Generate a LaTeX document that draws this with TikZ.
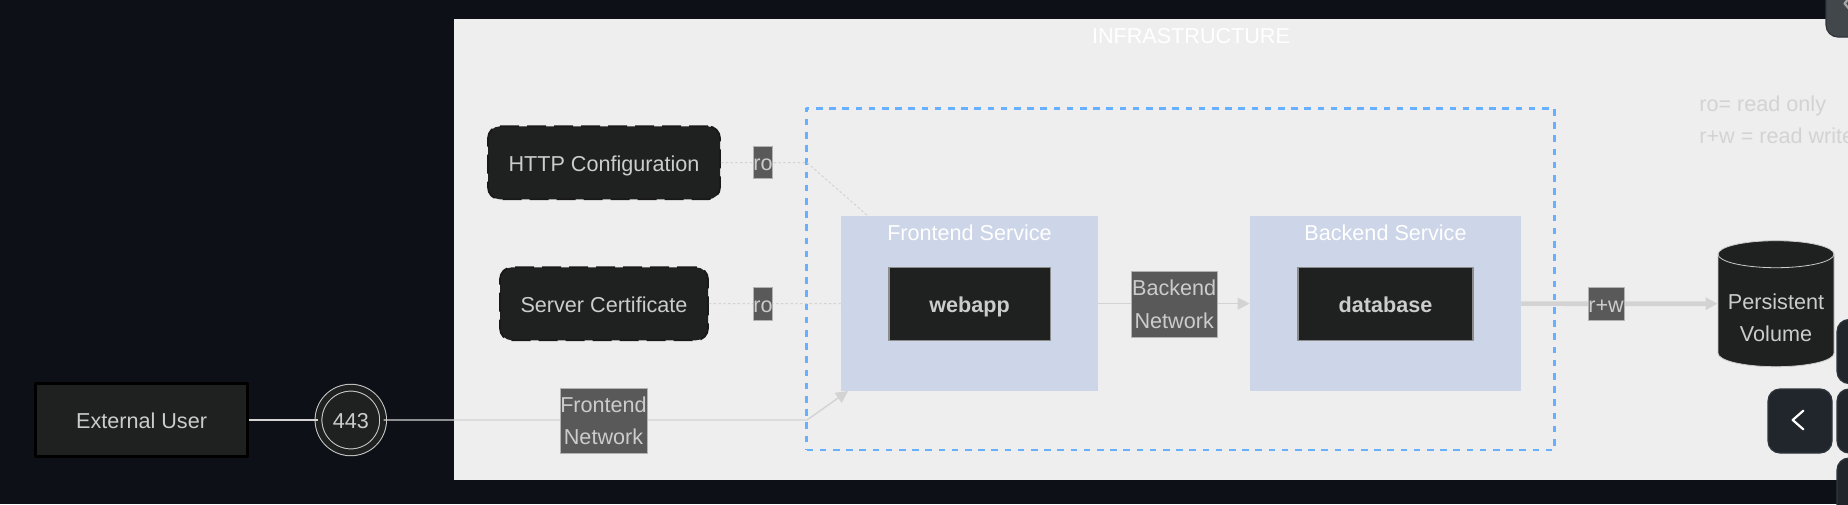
\documentclass[tikz,border=0pt]{standalone}
\usepackage{fontspec}
\setmainfont{Liberation Sans}
\usepackage{xcolor}
\usepackage{tikz}
\usetikzlibrary{arrows.meta}
\definecolor{pagebg}{HTML}{0D1117}
\definecolor{panelbg}{HTML}{EEEEEE}
\definecolor{boxbg}{HTML}{1F2020}
\definecolor{clusterbg}{HTML}{CDD5E8}
\definecolor{labelbg}{HTML}{595959}
\definecolor{edgegray}{HTML}{D3D3D3}
\definecolor{textgray}{HTML}{CCCCCC}
\definecolor{dashblue}{HTML}{66B0FF}
\definecolor{btnbg}{HTML}{21262D}
\definecolor{btnline}{HTML}{30363D}
\tikzstyle{basetext} = [font=\fontsize{10.8}{16.35}\selectfont,align=center,inner sep=0pt]
\tikzstyle{oneline} = [text height=9pt,text depth=0.5pt]
\tikzstyle{darkbox} = [basetext,oneline,fill=boxbg,text=textgray]
\tikzstyle{mountbox} = [darkbox,rounded corners=6pt,draw=black!90,line width=0.9pt,dash pattern=on 9.5pt off 4pt]
\tikzstyle{podbox} = [darkbox,draw=gray!90,line width=0.6pt,font=\fontsize{10.8}{16.35}\selectfont\bfseries]
\tikzstyle{cluster} = [fill=clusterbg,inner sep=0pt]
\tikzstyle{edgelabel} = [basetext,fill=labelbg,draw=gray!60,line width=0.3pt,text=textgray]
\tikzstyle{flow} = [edgegray,line width=0.7pt,>={Triangle[length=6pt,width=6pt]}]
\tikzstyle{mountflow} = [flow,dash pattern=on 1.2pt off 1.2pt,line width=0.5pt]
\tikzstyle{whitetext} = [basetext,oneline,text=white]
\tikzstyle{button} = [fill=btnbg,draw=btnline,line width=0.6pt,rounded corners=6pt,inner sep=0pt]

\begin{document}
\begin{tikzpicture}[line cap=butt,line join=round,x=0.5pt,y=-0.5pt]
            \useasboundingbox (0,0) rectangle (1848,504);
            \clip (0,0) rectangle (1848,504);
            \fill[pagebg] (0,0) rectangle (1848,504);
            \node[fill=panelbg,inner sep=0pt,minimum width=697pt,minimum height=230.5pt] (panel) at (1151,249.5) {};
            % service boxes
            \node[draw=dashblue,line width=1.25pt,dash pattern=on 3.3pt off 3.3pt,inner sep=0pt,minimum width=374pt,minimum height=170.8pt] (netpolicy) at (1180.5,279.2) {};
            \node[cluster,minimum width=128.5pt,minimum height=87.5pt] (frontend) at (969.5,303.6) {};
            \node[cluster,minimum width=135.3pt,minimum height=87.5pt] (backend) at (1385.3,303.6) {};
            \node[podbox,minimum width=80.6pt,minimum height=36.3pt] (webapp) at (969.5,303.8) {webapp};
            \node[podbox,minimum width=87.5pt,minimum height=36.3pt] (database) at (1385.5,303.8) {database};
            % outside and mounts
            \node[darkbox,draw=black,line width=1.2pt,minimum width=106pt,minimum height=36.5pt] (user) at (141.6,420) {External User};
            \node[darkbox,circle,draw=textgray,line width=0.5pt,minimum size=32.3pt,double=boxbg,double distance=2.9pt] (port) at (350.8,420) {443};
            \node[mountbox,minimum width=116pt,minimum height=36.5pt] (httpconf) at (604,162.8) {HTTP Configuration};
            \node[mountbox,minimum width=104pt,minimum height=36.5pt] (servercert) at (604,303.8) {Server Certificate};
            % volume drum
            \draw[fill=boxbg,draw=textgray,line width=0.4pt] (1718,254.2) arc (180:360:58 and 13.5) -- (1834,353.2) arc (0:180:58 and 13.5) -- cycle;
            \draw[textgray,line width=0.4pt] (1718,254.2) arc (180:0:58 and 13.5);
            \node[inner sep=0pt,minimum width=58pt,minimum height=63pt] (volume) at (1776,303.7) {};
            \node[basetext,text=textgray] (volumetext) at (1776,317.8) {Persistent\\Volume};
            \coordinate (bendhttp) at (807,162.6);
            \coordinate (bendfront) at (807,420);
            \coordinate (frontop) at (868,216);
            \coordinate (frontip) at (848,391);
            % connectors
            \draw[flow] (user) -- (port);
            \draw[flow,->] (port) -- (bendfront) -- (frontip);
            \draw[mountflow] (httpconf) -- (bendhttp) -- (frontop);
            \draw[mountflow] (servercert) -- (frontend);
            \draw[flow,->] (frontend) -- (backend);
            \draw[flow,->,line width=2.35pt] (backend) -- (volume);
            % labels
            \node[edgelabel,minimum width=43.5pt,minimum height=32.8pt] (frontnet) at (603.5,420.9) {Frontend\\Network};
            \node[edgelabel,minimum width=42.8pt,minimum height=32.8pt] (backnet) at (1174.2,304.4) {Backend\\Network};
            \node[edgelabel,oneline,minimum width=9.4pt,minimum height=16.4pt] (roa) at (763,162.3) {ro};
            \node[edgelabel,oneline,minimum width=9.4pt,minimum height=16.4pt] (rob) at (763,303.5) {ro};
            \node[edgelabel,oneline,minimum width=18pt,minimum height=16.4pt] (rw) at (1606,303.5) {r+w};
            \node[whitetext] (infra) at (1191,35) {INFRASTRUCTURE};
            \node[whitetext] (fronttitle) at (969.5,232) {Frontend Service};
            \node[whitetext] (backtitle) at (1385.5,232) {Backend Service};
            \node[basetext,oneline,text=edgegray,anchor=west] (noteone) at (1699,103) {ro= read only};
            \node[basetext,oneline,text=edgegray,anchor=west] (notetwo) at (1699,135) {r+w = read write};
            % viewer buttons
            \node[button,fill=btnbg!85!white,minimum width=32pt,minimum height=32pt] (btnup) at (1858,5) {};
            \node[button,minimum width=32pt,minimum height=32pt] (btntop) at (1869,351.5) {};
            \node[button,minimum width=32pt,minimum height=32pt] (btnleft) at (1800,421) {};
            \node[button,minimum width=32pt,minimum height=32pt] (btnmid) at (1869,421) {};
            \node[button,minimum width=32pt,minimum height=32pt] (btnlow) at (1869,490) {};
            \draw[white,line width=1.1pt,line cap=round] (1803.3,410.7) -- (1792.7,420) -- (1803.3,429.3);
            \draw[gray!70,line width=1.1pt,line cap=round] (1850,-3) -- (1844.5,3.5) -- (1850,10);
        \end{tikzpicture}
\end{document}
